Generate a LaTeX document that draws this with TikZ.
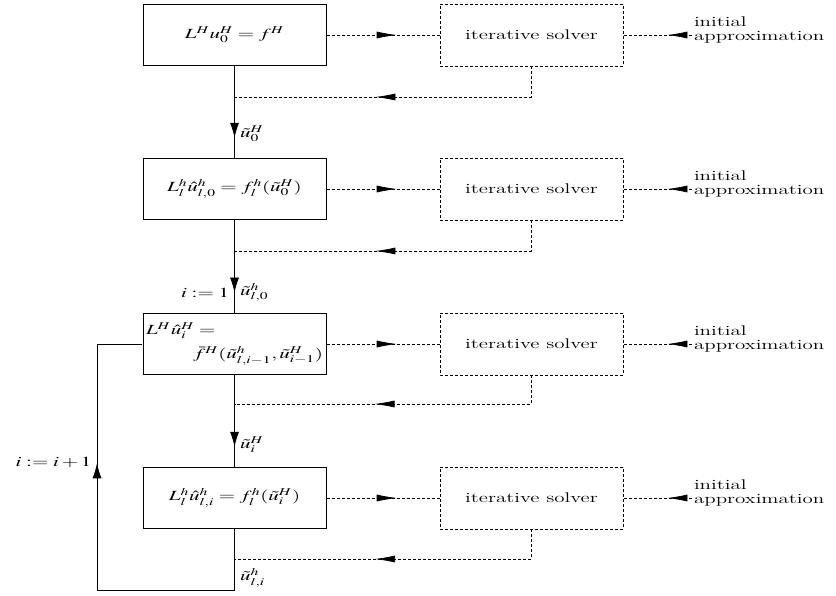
\documentclass[tikz,border=0pt]{standalone}
\usepackage{mathptmx}
\usetikzlibrary{arrows.meta,decorations.markings}

\begin{document}
\begin{tikzpicture}[x=0.66667pt, y=-1pt, xscale=1.5, transform shape,
    font=\fontsize{14}{13.5}\selectfont, line width=0.7pt,
    eqbox/.style={draw, line width=1pt, minimum width=122pt, minimum height=61pt, inner sep=2pt},
    solverbox/.style={draw, dash pattern=on 3pt off 2pt, minimum width=122pt, minimum height=62pt},
    flow/.style={dash pattern=on 3pt off 2pt},
    htip/.style={postaction={decorate}, decoration={markings,
        mark=at position #1 with {\arrow{Latex[length=20pt,width=7pt]}}}},
    vtip/.style={postaction={decorate}, decoration={markings,
        mark=at position #1 with {\arrow{Latex[length=15pt,width=9pt]}}}}]
    \useasboundingbox (0,0) rectangle (836,595);

    % Left column: the equations
    \node[eqbox] (eq1) at (234.5,35) {$L^H u_0^H = f^H$};
    \node[eqbox] (eq2) at (234.5,189) {$L_l^h \hat u_{l,0}^h = f_l^h(\tilde u_0^H)$};
    \node[eqbox, text width=118pt, align=left, font=\fontsize{14}{24}\selectfont] (eq3) at (234.5,344)
        {$L^H \hat u_i^H =$\\ \hspace*{\fill}$\bar f^H(\tilde u_{l,i-1}^h, \tilde u_{i-1}^H)$};
    \node[eqbox] (eq4) at (234.5,498) {$L_l^h \hat u_{l,i}^h = f_l^h(\tilde u_i^H)$};

    % Middle column: the solvers
    \node[solverbox] (sol1) at (531.5,35) {iterative solver};
    \node[solverbox] (sol2) at (531.5,189) {iterative solver};
    \node[solverbox] (sol3) at (531.5,344) {iterative solver};
    \node[solverbox] (sol4) at (531.5,498) {iterative solver};

    % Right column: initial approximations
    \node[anchor=west, align=left, inner sep=1pt] (init1) at (692,30) {initial\\approximation};
    \node[anchor=west, align=left, inner sep=1pt] (init2) at (692,184) {initial\\approximation};
    \node[anchor=west, align=left, inner sep=1pt] (init3) at (692,339) {initial\\approximation};
    \node[anchor=west, align=left, inner sep=1pt] (init4) at (692,493) {initial\\approximation};

    % Points where the results come back
    \coordinate (ret1) at (234.5,97);
    \coordinate (ret2) at (234.5,251);
    \coordinate (ret3) at (234.5,404);
    \coordinate (ret4) at (234.5,559);

    % Equation -> solver -> back
    \draw[flow, htip=0.62] (eq1.east) -- (sol1.west);
    \draw[flow, htip=0.62] (eq2.east) -- (sol2.west);
    \draw[flow, htip=0.62] (eq3.east) -- (sol3.west);
    \draw[flow, htip=0.62] (eq4.east) -- (sol4.west);
    \draw[flow, htip=0.57] (sol1.south) |- (ret1);
    \draw[flow, htip=0.57] (sol2.south) |- (ret2);
    \draw[flow, htip=0.57] (sol3.south) |- (ret3);
    \draw[flow, htip=0.57] (sol4.south) |- (ret4);
    \draw[flow, htip=0.36] (init1.west |- sol1.east) -- (sol1.east);
    \draw[flow, htip=0.36] (init2.west |- sol2.east) -- (sol2.east);
    \draw[flow, htip=0.36] (init3.west |- sol3.east) -- (sol3.east);
    \draw[flow, htip=0.36] (init4.west |- sol4.east) -- (sol4.east);

    % Main flow down
    \draw[vtip=0.78] (eq1.south) -- node[pos=0.74, right] {$\tilde u_0^H$} (eq2.north);
    \draw[vtip=0.78] (eq2.south) -- node[pos=0.78, left] {$i:=1$}
        node[pos=0.78, right] {$\tilde u_{l,0}^h$} (eq3.north);
    \draw[vtip=0.78] (eq3.south) -- node[pos=0.76, right] {$\tilde u_i^H$} (eq4.north);

    % Loop back
    \coordinate (loopR) at (234.5,590);
    \coordinate (loopL) at (97,590);
    \draw[vtip=0.664] (eq4.south) -- node[pos=0.8, right] {$\tilde u_{l,i}^h$} (loopR) -- (loopL)
        -- node[pos=0.52, left] {$i:=i+1$} (loopL |- eq3.west) -- (eq3.west);
\end{tikzpicture}
\end{document}
